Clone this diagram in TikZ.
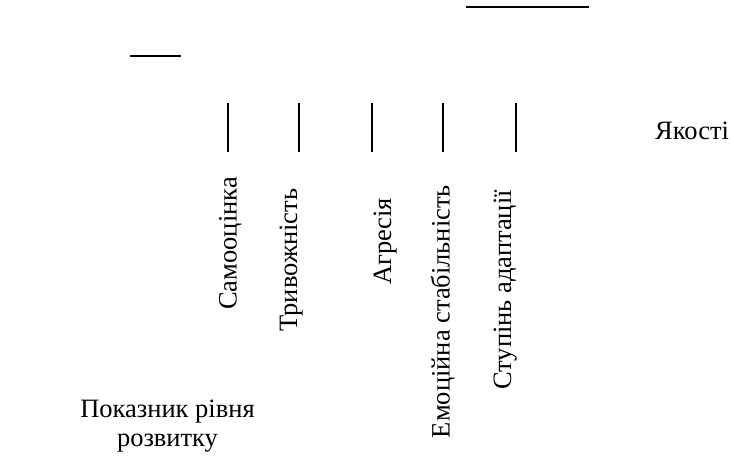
\documentclass[tikz,border=0pt]{standalone}
\usepackage{fontspec}
\setmainfont{LiberationSerif}[Extension=.ttf,UprightFont=*-Regular]

\begin{document}
\begin{tikzpicture}[x=1pt,y=-1pt,
  lbl/.style={inner sep=0pt,font=\fontsize{26.5}{28.4}\selectfont},
  vlbl/.style={lbl,rotate=90,anchor=base west}]

\useasboundingbox (0,0) rectangle (734,459);

\draw [line width=2pt] (466,7.3) -- (588.7,7.3);
\draw [line width=2pt] (130,55.7) -- (180.7,55.7);

\foreach \x in {227.7,299.3,371.7,443.3,515.7} {
\draw [line width=1.8pt] (\x,102.7) -- (\x,151.7);
}

\node [lbl,anchor=base west] (q) at (655,139.3) {Якості};

\node [vlbl] (l1) at (236.5,310) {Самооцінка};
\node [vlbl] (l2) at (297,331.7) {Тривожність};
\node [vlbl] (l3) at (391,285) {Агресія};
\node [vlbl] (l4) at (449.5,438.3) {Емоційна стабільність};
\node [vlbl] (l5) at (511,390) {Ступінь адаптації};

\node [lbl,align=center] (p) at (167.5,426) {Показник рівня\\розвитку};

\end{tikzpicture}
\end{document}
